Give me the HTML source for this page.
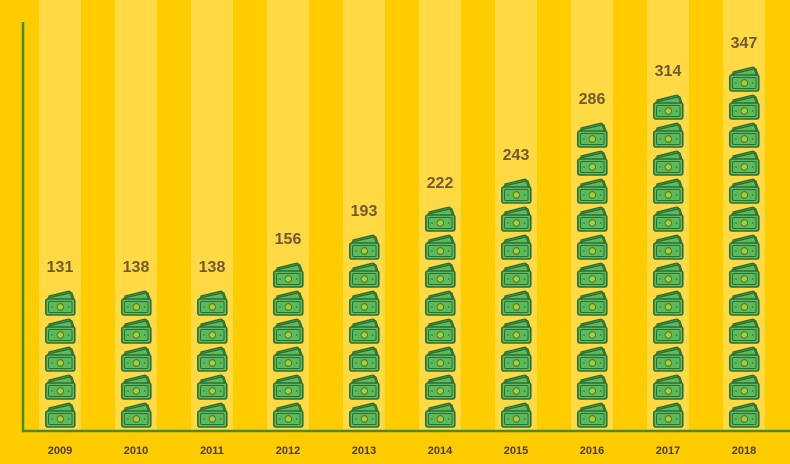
<!DOCTYPE html>
<html><head><meta charset="utf-8"><style>
html,body{margin:0;padding:0;background:#FFCC00;}
svg{display:block;font-family:"Liberation Sans",sans-serif;}
</style></head><body>
<svg id="chart" width="790" height="464" viewBox="0 0 790 464" xmlns="http://www.w3.org/2000/svg">
<defs>
<g id="bill">
<path d="M4,5 L24,0 L27,2 L29,8 L29,16 L4,16 Z" fill="#3f9a4a" stroke="#2f6f35" stroke-width="1.2"/>
<path d="M3,7 L25,2 L28,9 L28,16 L3,16 Z" fill="#5cbb5c" stroke="#2f6f35" stroke-width="1.2"/>
<rect x="0.8" y="8" width="29" height="16" rx="2" fill="#5cbb5c" stroke="#2f6f35" stroke-width="1.6"/>
<rect x="3.5" y="10.5" width="23.5" height="11" rx="1.5" fill="none" stroke="#2f6f35" stroke-width="1"/>
<circle cx="15.3" cy="16" r="3.3" fill="#b5c92a" stroke="#2f6f35" stroke-width="0.8"/>
<circle cx="7" cy="16" r="0.8" fill="#2f6f35"/><circle cx="23.6" cy="16" r="0.8" fill="#2f6f35"/>
</g>
</defs>
<rect x="0" y="0" width="790" height="464" fill="#FFCC00"/>
<g id="stripes"></g>
<g id="marks"></g>
<line x1="23" y1="22" x2="23" y2="432" stroke="#4a8a2a" stroke-width="2.5"/>
<line x1="22" y1="431" x2="790" y2="431" stroke="#4a8a2a" stroke-width="2.5"/>
</svg>
<script>
const years = ["2009","2010","2011","2012","2013","2014","2015","2016","2017","2018"];
const values = [131,138,138,156,193,222,243,286,314,347];
const unitPerIcon = 26.7;

const NS = "http://www.w3.org/2000/svg";
const x0 = 60, step = 76, bottomIconY = 403, pitch = 28;
function xScale(i){ return x0 + i*step; }
const stripes = document.getElementById('stripes');
const marks = document.getElementById('marks');
years.forEach((yr,i)=>{
  const cx = xScale(i);
  const s = document.createElementNS(NS,'rect');
  s.setAttribute('x',cx-21); s.setAttribute('y',0); s.setAttribute('width',42); s.setAttribute('height',430);
  s.setAttribute('fill','#FFDA44');
  
  
  stripes.appendChild(s);
  const n = Math.max(1, Math.round(values[i]/unitPerIcon));
  const g = document.createElementNS(NS,'g');
  
  
  let topY = bottomIconY;
  for(let k=0;k<n;k++){
    const u = document.createElementNS(NS,'use');
    const y = bottomIconY - k*pitch; topY = y;
    u.setAttribute('href','#bill');
    u.setAttribute('x',cx-15); u.setAttribute('y',y);
    
    
    g.appendChild(u);
  }
  marks.appendChild(g);
  const t = document.createElementNS(NS,'text');
  t.setAttribute('x',cx); t.setAttribute('y',topY-19);
  t.setAttribute('text-anchor','middle'); t.setAttribute('font-size','16'); t.setAttribute('font-weight','bold');
  t.setAttribute('fill','#6e5a34');
  t.textContent = values[i];
  
  
  marks.appendChild(t);
  const yl = document.createElementNS(NS,'text');
  yl.setAttribute('x',cx); yl.setAttribute('y',454);
  yl.setAttribute('text-anchor','middle'); yl.setAttribute('font-size','11'); yl.setAttribute('font-weight','bold');
  yl.setAttribute('fill','#4a3c28');
  yl.textContent = yr;
  
  
  marks.appendChild(yl);
});
</script>
</body></html>
